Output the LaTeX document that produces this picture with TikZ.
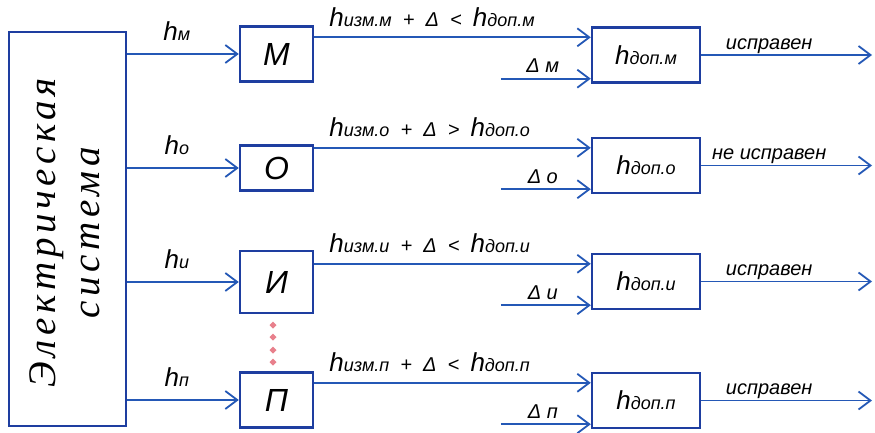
\documentclass[tikz,border=0pt]{standalone}
\usepackage{fontspec}
\setmainfont{Liberation Sans}
\newfontfamily\sysfont[LetterSpace=12]{Liberation Serif}
\usetikzlibrary{arrows.meta,calc}
\definecolor{lineblue}{RGB}{36,88,182}
\definecolor{boxblue}{RGB}{30,62,160}
\definecolor{dotpink}{RGB}{232,128,140}
\newcommand{\idx}[1]{{\fontsize{18}{18}\selectfont #1}}
\newcommand{\hh}{{\fontsize{26}{26}\selectfont h}}

\begin{document}
\begin{tikzpicture}[x=1pt, y=-1pt, >={Straight Barb[length=12pt,width=18pt]},
  wire/.style={draw=lineblue, line width=1.8pt},
  blk/.style={draw=boxblue, line width=2.4pt, inner sep=0pt, minimum width=73pt,
    font=\itshape\fontsize{32}{32}\selectfont},
  hbox/.style={draw=boxblue, line width=2.4pt, inner sep=0pt, minimum width=108pt,
    minimum height=55pt, font=\itshape\fontsize{20}{20}\selectfont},
  lbl/.style={inner sep=0pt, font=\itshape\fontsize{20}{20}\selectfont}]
  \useasboundingbox (0,0) rectangle (875,432);
  % Электрическая система
  \node[draw=boxblue, line width=2.4pt, minimum width=117pt, minimum height=394pt] (sys) at (67.5,229) {};
  \node[rotate=90, align=center, font=\sysfont\itshape\fontsize{39}{44}\selectfont] (systxt) at (65,233) {Электрическая\\система};
  % ряды М, О, И, П
  \foreach \nm/\yb/\hb/\yh/\Ltr/\ltr/\rel/\res in {
      m/54/55/55/М/м/</исправен,
      o/168/45/165.5/О/о/>/не исправен,
      i/282/62/281.5/И/и/</исправен,
      p/400/55/400.5/П/п/</исправен} {
    \node[blk, minimum height=\hb pt] (\nm-blk) at (276.5,\yb) {\Ltr};
    \node[hbox] (\nm-hd) at (646,\yh) {\hh\idx{доп.\ltr}};
    \draw[wire,->] (sys.east |- \nm-blk) -- (\nm-blk);
    \node[lbl, anchor=base] (\nm-h) at ($(\nm-blk.west)+(-62,-14)$) {\hh\idx{\ltr}};
    % измеренное значение
    \coordinate (\nm-top) at ($(\nm-hd.north west)+(0,11)$);
    \draw[wire,->] (\nm-blk.east |- \nm-top) -- (\nm-top);
    \node[lbl, anchor=base west] (\nm-cmp) at ($(\nm-blk.east |- \nm-top)+(15,-11)$)
      {\hh\idx{изм.\ltr}\ \ +\ \ Δ\ \ \rel\ \ \hh\idx{доп.\ltr}};
    % допуск
    \coordinate (\nm-dl) at ($(\nm-hd.south west)+(-90,-5)$);
    \draw[wire,->] (\nm-dl) -- (\nm-dl -| \nm-hd.west);
    \node[lbl, anchor=base] (\nm-d) at ($(\nm-dl)+(42,-6)$) {Δ\ \ltr};
    % результат
    \coordinate (\nm-out) at (872,\yh);
    \draw[wire,->] (\nm-hd) -- (\nm-out);
    \node[lbl, anchor=base] (\nm-res) at ($(\nm-hd.east)+(68,-6)$) {\res};
  }
  % многоточие
  \foreach \y in {325,337,350,362}
    \fill[dotpink] (273,\y) +(-3.5,0) -- +(0,-3.5) -- +(3.5,0) -- +(0,3.5) -- cycle;
\end{tikzpicture}
\end{document}
